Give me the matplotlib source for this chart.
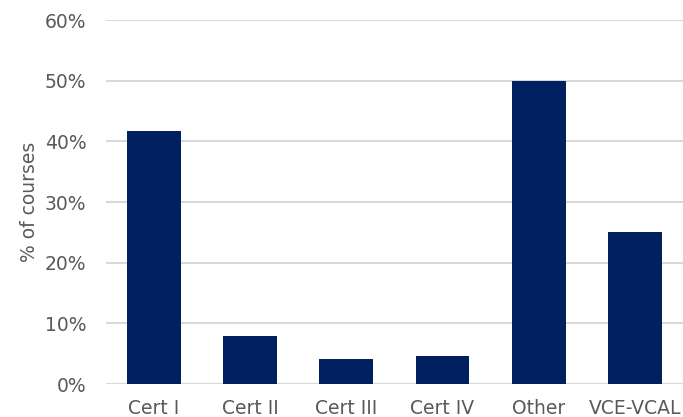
import matplotlib.pyplot as plt
from matplotlib.ticker import PercentFormatter

# Share of courses by qualification level
categories = ['Cert I', 'Cert II', 'Cert III', 'Cert IV', 'Other', 'VCE-VCAL']
shares = [0.417, 0.079, 0.042, 0.046, 0.500, 0.250]

text_col = '#595959'

fig = plt.figure(figsize=(6.83, 4.17), dpi=100)
ax = fig.add_axes([0.155, 0.079, 0.845, 0.873])

ax.bar(categories, shares, width=0.56, color='#002060', zorder=3)

ax.set_ylim(0, 0.6)
ax.set_xlim(-0.5, len(categories) - 0.5)
ax.set_yticks([0, 0.1, 0.2, 0.3, 0.4, 0.5, 0.6])
ax.yaxis.set_major_formatter(PercentFormatter(1.0, decimals=0))
ax.grid(axis='y', color='#d9d9d9', linewidth=1.5, zorder=0)

for s in ax.spines.values():
    s.set_visible(False)
ax.tick_params(axis='both', length=0, labelsize=13.5, colors=text_col)
ax.tick_params(axis='y', pad=14)
ax.tick_params(axis='x', pad=11)

ax.set_ylabel('% of courses', fontsize=13.5, color=text_col, labelpad=4)

fig.savefig('out.png', dpi=100)
